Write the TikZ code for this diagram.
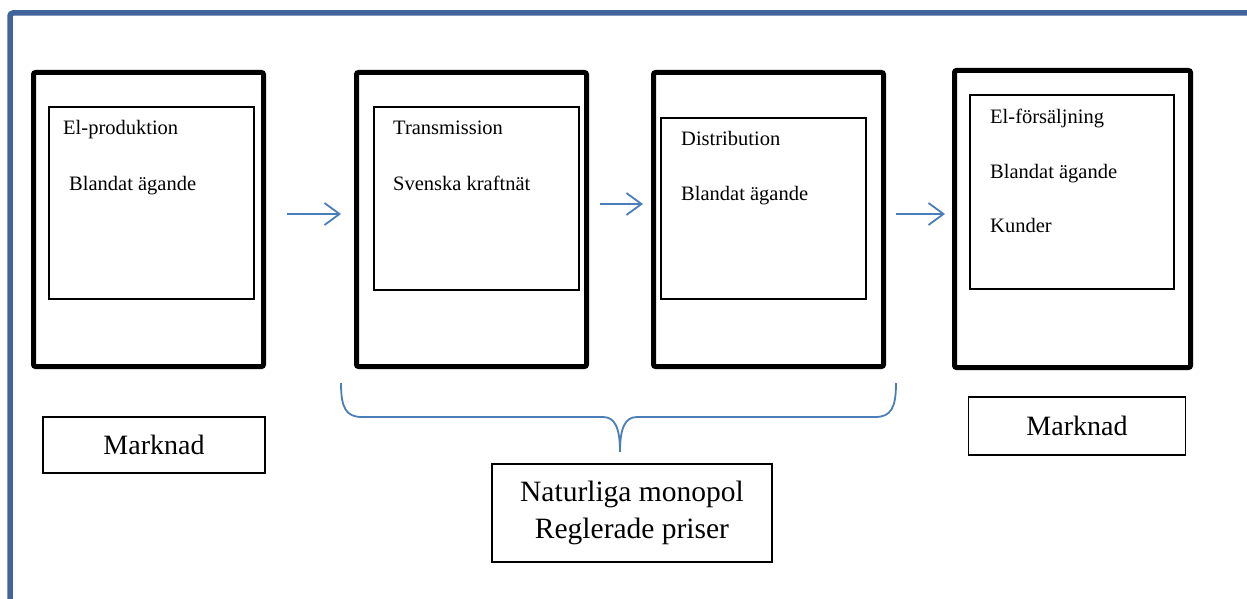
\documentclass[tikz,border=0pt]{standalone}
\usepackage{fontspec}
\setmainfont{Liberation Serif}
\usepackage{tikz}
\usetikzlibrary{arrows.meta}

\definecolor{ramblue}{HTML}{41649A}
\definecolor{pilblue}{HTML}{4A7EBB}

\tikzset{
  ytter/.style={draw, line width=5pt, rounded corners=2pt, minimum width=230pt, minimum height=294pt, anchor=north west, inner sep=0pt},
  inre/.style={draw, line width=1.8pt, anchor=north west, inner sep=0pt},
  txt/.style={anchor=base west, inner sep=0pt, font=\fontsize{20.5}{24}\selectfont},
  etikett/.style={draw, line width=1.8pt, inner sep=0pt, font=\fontsize{28}{37}\selectfont, align=center},
  pil/.style={pilblue, line width=1.8pt, -{Straight Barb[length=15pt, width=22pt, line width=1.8pt]}},
}

\begin{document}
\begin{tikzpicture}[x=1pt, y=-1pt]
\useasboundingbox (0,0) rectangle (1247,599);
% ram
\draw[ramblue, line width=5.5pt, rounded corners=3pt] (10,599) -- (10,13) -- (1250,13);

% yttre rutor
\node[ytter] (prod) at (31,70) {};
\node[ytter] (trans) at (354,70) {};
\node[ytter] (dist) at (651,70) {};
\node[ytter, minimum width=236pt, minimum height=297pt] (salj) at (952,68) {};

% inre rutor
\node[inre, minimum width=205pt, minimum height=192pt] (prodin) at (48,106) {};
\node[inre, minimum width=205pt, minimum height=183pt] (transin) at (373,106) {};
\node[inre, minimum width=205pt, minimum height=181pt] (distin) at (660,117) {};
\node[inre, minimum width=204pt, minimum height=194pt] (saljin) at (969,94) {};

% texter
\node[txt] (t1a) at (63,135) {El-produktion};
\node[txt] (t1b) at (69,190) {Blandat ägande};
\node[txt] (t2a) at (393,135) {Transmission};
\node[txt] (t2b) at (393,190) {Svenska kraftnät};
\node[txt] (t3a) at (681,146) {Distribution};
\node[txt] (t3b) at (681,200) {Blandat ägande};
\node[txt] (t4a) at (990,124) {El-försäljning};
\node[txt] (t4b) at (990,178) {Blandat ägande};
\node[txt] (t4c) at (990,232) {Kunder};

% pilar
\coordinate (p1s) at (287,214);
\coordinate (p1e) at (341,214);
\coordinate (p2s) at (600,204);
\coordinate (p2e) at (643,204);
\coordinate (p3s) at (896,214);
\coordinate (p3e) at (945,214);
\draw[pil] (p1s) -- (p1e);
\draw[pil] (p2s) -- (p2e);
\draw[pil] (p3s) -- (p3e);

% nedre rutor
\node[etikett, minimum width=222pt, minimum height=56pt] (mark1) at (154,445) {Marknad};
\node[etikett, minimum width=280pt, minimum height=98pt, font=\fontsize{29.5}{37}\selectfont] (monopol) at (632,513) {Naturliga monopol\\Reglerade priser};
\node[etikett, minimum width=217pt, minimum height=58pt] (mark2) at (1077,426) {Marknad};

% klammer
\coordinate (kv) at (341,383);
\coordinate (kh) at (896,383);
\coordinate (kspets) at (620,452);
\draw[pilblue, line width=1.8pt]
  (kv) .. controls (341,408) and (346,417) .. (362,417) -- (603,417)
  .. controls (615,417) and (620,428) .. (kspets)
  .. controls (620,428) and (625,417) .. (637,417) -- (875,417)
  .. controls (891,417) and (896,408) .. (kh);
\end{tikzpicture}
\end{document}
